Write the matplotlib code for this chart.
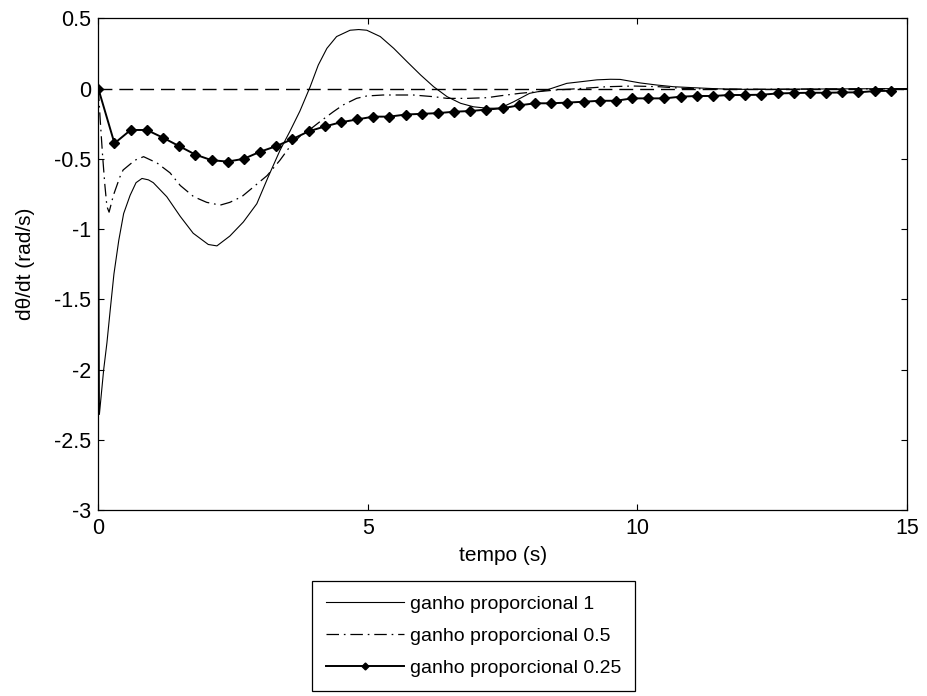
import matplotlib
matplotlib.use("Agg")
import matplotlib.pyplot as plt

plt.rcParams['font.family'] = ['Liberation Sans', 'DejaVu Sans']
plt.rcParams['lines.scale_dashes'] = False

# time axis and responses (angular velocity) for three proportional gains
t_k1 = [0, 0.02, 0.1, 0.16, 0.22, 0.29, 0.38, 0.47, 0.59, 0.7, 0.81, 0.93,
        1.02, 1.27, 1.52, 1.76, 2.04, 2.2, 2.44, 2.69, 2.94, 3.15, 3.37,
        3.56, 3.74, 3.93, 4.08, 4.24, 4.42, 4.67, 4.83, 4.98, 5.23, 5.48,
        5.73, 5.98, 6.22, 6.47, 6.72, 6.96, 7.21, 7.45, 7.7, 8.0, 8.32,
        8.69, 8.94, 9.25, 9.5, 9.68, 10.05, 10.36, 10.67, 11.04, 11.5,
        12.0, 12.5, 13.0, 14.0, 15.0]
w_k1 = [0, -2.32, -2.0, -1.81, -1.58, -1.32, -1.08, -0.89, -0.76, -0.67,
        -0.64, -0.65, -0.67, -0.77, -0.91, -1.03, -1.11, -1.12, -1.05,
        -0.95, -0.82, -0.63, -0.44, -0.30, -0.16, 0.013, 0.167, 0.286,
        0.37, 0.415, 0.42, 0.415, 0.37, 0.286, 0.19, 0.096, 0.013, -0.058,
        -0.105, -0.13, -0.14, -0.14, -0.095, -0.034, -0.01, 0.037, 0.048,
        0.062, 0.066, 0.065, 0.04, 0.025, 0.013, 0.006, -0.002, -0.006,
        -0.006, -0.004, -0.002, 0.0]

t_k05 = [0, 0.04, 0.08, 0.12, 0.16, 0.2, 0.28, 0.4, 0.46, 0.68, 0.84, 1.09,
         1.33, 1.52, 1.77, 2.01, 2.26, 2.44, 2.66, 2.88, 3.13, 3.37, 3.56,
         3.74, 3.93, 4.11, 4.36, 4.54, 4.79, 4.98, 5.28, 5.59, 5.84, 6.22,
         6.47, 6.84, 7.21, 7.45, 7.82, 8.13, 8.5, 8.94, 9.43, 9.92, 10.4,
         10.9, 11.5, 12.5, 13.5, 15.0]
w_k05 = [0, -0.25, -0.48, -0.68, -0.84, -0.88, -0.76, -0.63, -0.58, -0.51,
         -0.485, -0.53, -0.60, -0.69, -0.77, -0.81, -0.83, -0.81, -0.77,
         -0.70, -0.62, -0.51, -0.41, -0.34, -0.29, -0.236, -0.165, -0.117,
         -0.07, -0.053, -0.046, -0.046, -0.046, -0.058, -0.07, -0.07,
         -0.065, -0.052, -0.034, -0.023, -0.01, 0.0, 0.013, 0.018, 0.013,
         0.0, -0.004, -0.005, -0.003, -0.001]

t_k025 = [0.0, 0.3, 0.6, 0.9, 1.2, 1.5, 1.8, 2.1, 2.4, 2.7, 3.0, 3.3, 3.6,
          3.9, 4.2, 4.5, 4.8, 5.1, 5.4, 5.7, 6.0, 6.3, 6.6, 6.9, 7.2, 7.5,
          7.8, 8.1, 8.4, 8.7, 9.0, 9.3, 9.6, 9.9, 10.2, 10.5, 10.8, 11.1,
          11.4, 11.7, 12.0, 12.3, 12.6, 12.9, 13.2, 13.5, 13.8, 14.1, 14.4,
          14.7]
w_k025 = [0, -0.39, -0.295, -0.295, -0.35, -0.41, -0.47, -0.51, -0.52,
          -0.50, -0.45, -0.41, -0.36, -0.305, -0.27, -0.24, -0.22, -0.20,
          -0.20, -0.185, -0.18, -0.175, -0.165, -0.16, -0.15, -0.14, -0.12,
          -0.105, -0.105, -0.10, -0.094, -0.087, -0.087, -0.07, -0.07, -0.07,
          -0.058, -0.053, -0.053, -0.046, -0.046, -0.044, -0.035, -0.032,
          -0.03, -0.03, -0.028, -0.027, -0.018, -0.016]

reference = 0.0

series_labels = ['ganho proporcional 1', 'ganho proporcional 0.5',
                 'ganho proporcional 0.25']
x_ticks = [0, 5, 10, 15]
x_tick_labels = ['0', '5', '10', '15']
y_ticks = [0.5, 0, -0.5, -1, -1.5, -2, -2.5, -3]
y_tick_labels = ['0.5', '0', '-0.5', '-1', '-1.5', '-2', '-2.5', '-3']

W, H = 927, 696
fig = plt.figure(figsize=(W / 100, H / 100), dpi=100)
left, right, top, bottom = 98.3, 907, 18.3, 510
ax = fig.add_axes([left / W, 1 - bottom / H, (right - left) / W, (bottom - top) / H])

ax.axhline(reference, color='black', lw=1.0, dashes=(10, 5))
l1, = ax.plot(t_k1, w_k1, color='black', lw=0.8, label=series_labels[0])
l2, = ax.plot(t_k05, w_k05, color='black', lw=0.9, dashes=(9, 3.5, 1.2, 3.5),
              label=series_labels[1])
l3, = ax.plot(t_k025, w_k025, color='black', lw=1.4, marker='D', ms=5.2,
              label=series_labels[2])

ax.set_xlim(0, 15)
ax.set_ylim(-3, 0.5)
ax.set_xticks(x_ticks)
ax.set_xticklabels(x_tick_labels)
ax.set_yticks(y_ticks)
ax.set_yticklabels(y_tick_labels)
ax.tick_params(direction='in', length=4, width=0.8, top=True, right=True,
               labelsize=15.5)
ax.tick_params(axis='y', pad=5)
ax.tick_params(axis='x', pad=6)
for s in ax.spines.values():
    s.set_linewidth(0.9)

ax.set_xlabel('tempo (s)', fontsize=15, labelpad=5)
ax.set_ylabel('dθ/dt (rad/s)', fontsize=15)
ax.yaxis.set_label_coords(-0.078, 0.5)

leg = fig.legend(handles=[l1, l2, l3], labels=series_labels, loc='upper left',
                 bbox_to_anchor=(312 / W, 1 - 581 / H), bbox_transform=fig.transFigure,
                 fontsize=14, handlelength=4.0, handletextpad=0.3, borderpad=0.72,
                 labelspacing=0.75, numpoints=1, fancybox=False, framealpha=1,
                 edgecolor='black', borderaxespad=0)
leg.get_frame().set_linewidth(0.9)
leg.legend_handles[2].set_markersize(3.5)

fig.savefig('out.png', dpi=100)
